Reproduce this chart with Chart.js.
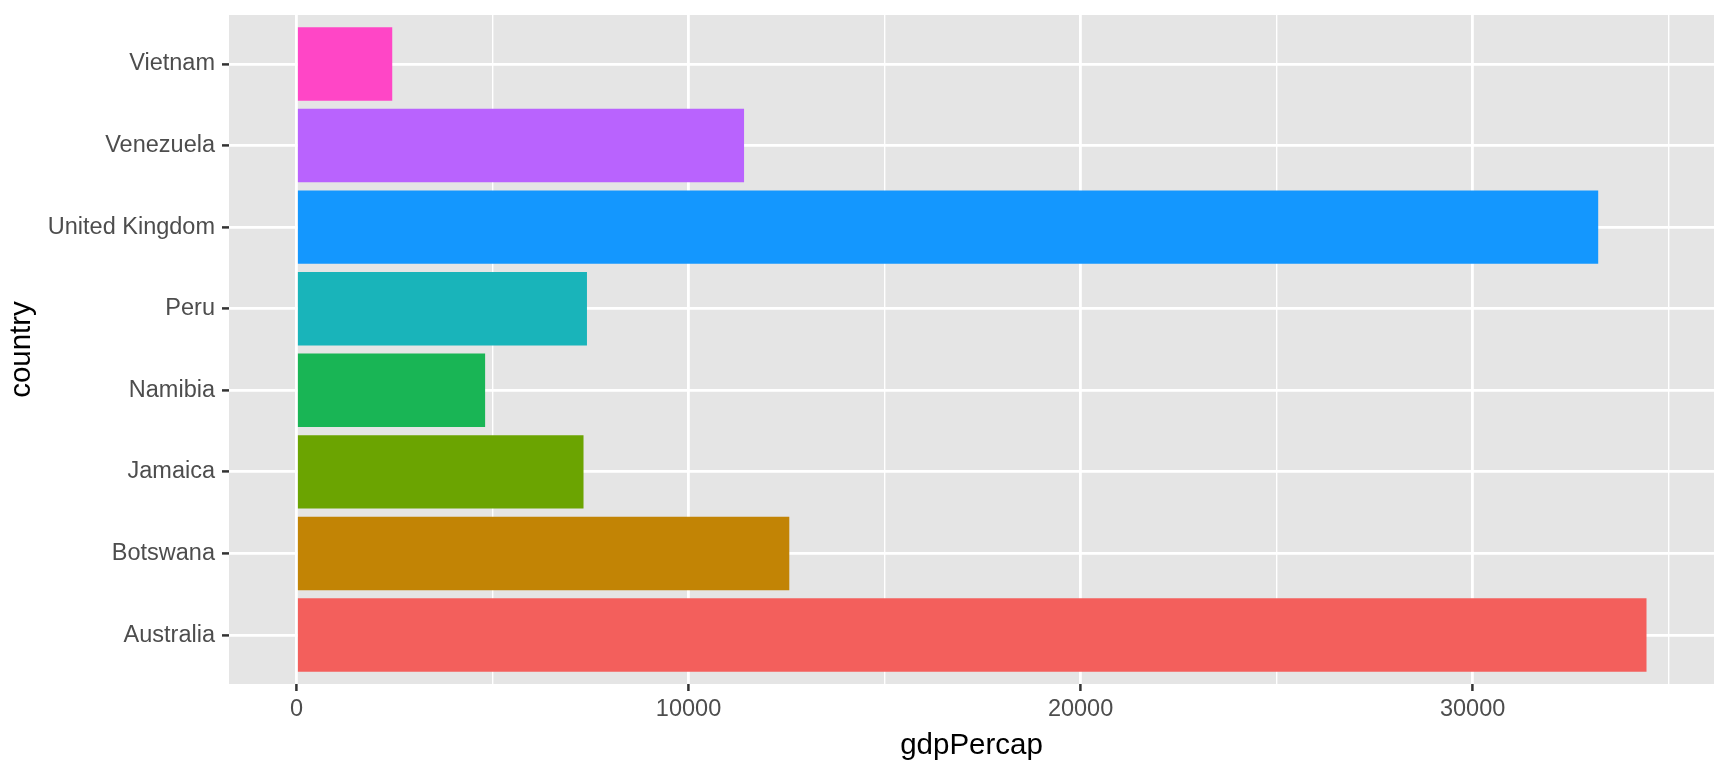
<!DOCTYPE html>
<html>
<head>
<meta charset="utf-8">
<script src="https://cdn.jsdelivr.net/npm/chart.js@4/dist/chart.umd.min.js"></script>
<style>
html,body{margin:0;padding:0;background:#ffffff;}
#wrap{width:1728px;height:768px;}
</style>
</head>
<body>
<div id="wrap"><canvas id="c" width="1728" height="768"></canvas></div>
<script>
// Data (gapminder 2007)
const categories = ["Australia", "Botswana", "Jamaica", "Namibia", "Peru", "United Kingdom", "Venezuela", "Vietnam"];
const gdpPercap = [34435, 12570, 7321, 4811, 7409, 33203, 11416, 2442];
const barColors = ["#F35F5C", "#C28405", "#6BA401", "#19B555", "#19B4BA", "#1497FE", "#B963FE", "#FF46C6"];
const xTickValues = [0, 5000, 10000, 15000, 20000, 25000, 30000, 35000];
const xTickLabels = ["0", "", "10000", "", "20000", "", "30000", ""];

const FONT = "'Liberation Sans', Arial, Helvetica, sans-serif";
const xMaxVal = Math.max(...gdpPercap);

const panelBg = {
  id: 'panelBg',
  beforeDraw(chart) {
    const {ctx, chartArea: a} = chart;
    ctx.save();
    ctx.fillStyle = '#E5E5E5';
    ctx.fillRect(a.left, a.top, a.right - a.left, a.bottom - a.top);
    ctx.restore();
  }
};

new Chart(document.getElementById('c'), {
  type: 'bar',
  data: {
    datasets: [{
      data: categories.map((c, i) => ({x: gdpPercap[i], y: i + 1})),
      backgroundColor: barColors,
      borderWidth: 0,
      barPercentage: 0.9,
      categoryPercentage: 1.0
    }]
  },
  options: {
    indexAxis: 'y',
    responsive: false,
    animation: false,
    layout: {padding: {left: 0, right: 14, top: 15, bottom: 0}},
    plugins: {legend: {display: false}, tooltip: {enabled: false}},
    scales: {
      x: {
        type: 'linear',
        min: -0.05 * xMaxVal,
        max: 1.05 * xMaxVal,
        offset: false,
        afterBuildTicks(scale) { scale.ticks = xTickValues.map(v => ({value: v})); },
        afterFit(scale) { scale.height = 84; scale.paddingLeft = 0; scale.paddingRight = 0; },
        border: {display: false},
        grid: {
          offset: false,
          color: '#FFFFFF',
          lineWidth: (ctx) => (ctx.tick && ctx.tick.value % 10000 === 0) ? 2.8 : 1.4,
          drawTicks: true,
          tickLength: 7,
          tickWidth: 2.5,
          tickColor: (ctx) => (ctx.tick && ctx.tick.value % 10000 === 0) ? '#333333' : 'rgba(0,0,0,0)'
        },
        ticks: {
          autoSkip: false,
          maxRotation: 0,
          padding: 4,
          color: '#4D4D4D',
          font: {family: FONT, size: 23.5},
          callback: (v) => { const i = xTickValues.indexOf(v); return i >= 0 ? xTickLabels[i] : ''; }
        },
        title: {
          display: true,
          text: 'gdpPercap',
          color: '#000000',
          font: {family: FONT, size: 29.5},
          padding: {top: 0, bottom: 4}
        }
      },
      y: {
        type: 'linear',
        min: 0.4,
        max: categories.length + 0.6,
        offset: false,
        afterBuildTicks(scale) { scale.ticks = categories.map((c, i) => ({value: i + 1})); },
        afterFit(scale) { scale.width = 229; scale.paddingTop = 0; scale.paddingBottom = 0; },
        border: {display: false},
        grid: {
          offset: false,
          color: '#FFFFFF',
          lineWidth: 2.8,
          drawTicks: true,
          tickLength: 7,
          tickWidth: 2.5,
          tickColor: '#333333'
        },
        ticks: {
          autoSkip: false,
          padding: 7,
          color: '#4D4D4D',
          font: {family: FONT, size: 23.5},
          callback: (v) => categories[v - 1] !== undefined ? categories[v - 1] : ''
        },
        title: {
          display: true,
          text: 'country',
          color: '#000000',
          font: {family: FONT, size: 29.5},
          padding: {top: 4, bottom: 0}
        }
      }
    }
  },
  plugins: [panelBg]
});
</script>
</body>
</html>
